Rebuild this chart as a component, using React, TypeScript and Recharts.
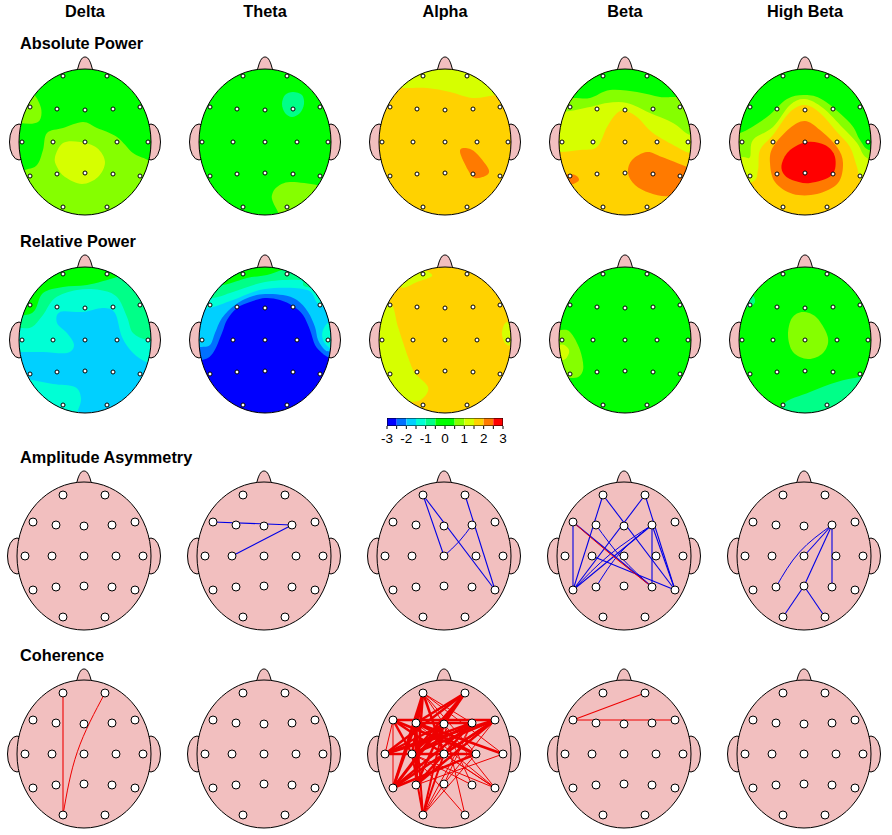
import React from "react";
import { ScatterChart, Scatter, XAxis, YAxis } from "recharts";

type Pt = [number, number];
type Band = [string, Pt[]];

const bandNames = ["Delta", "Theta", "Alpha", "Beta", "High Beta"];
const colorBreaks = [-3, -2.5, -2, -1.5, -1, -0.5, 0, 0.5, 1, 1.5, 2, 2.5, 3];
const colorTicks = [-3, -2.5, -2, -1.5, -1, -0.5, 0, 0.5, 1, 1.5, 2, 2.5, 3];
const palette = ["#0000ff", "#0070ff", "#00d0ff", "#00ffd5", "#00ff88", "#00ff00", "#00ff00", "#85ff00", "#d6ff00", "#ffd200", "#ff7a00", "#ff0000"];
const PINK = "#f2bfbf";
const [BL, B2, B3, TQ, SG, G, , LG, YG, Y, O, R] = palette;

const topoElectrodes: Record<string, Pt> = {
  Fp1: [-22, -66], Fp2: [22, -66], F7: [-55, -35], F3: [-28, -33], Fz: [0, -32], F4: [28, -33], F8: [55, -35],
  T3: [-63, 0], C3: [-32, 0], Cz: [0, 0], C4: [32, 0], T4: [63, 0],
  T5: [-55, 34], P3: [-28, 32], Pz: [0, 31], P4: [28, 32], T6: [55, 34], O1: [-22, 65], O2: [22, 65],
};
const netElectrodes: Record<string, Pt> = {
  Fp1: [-21, -61], Fp2: [21, -61], F7: [-51, -34], F3: [-28, -31], Fz: [0, -30], F4: [28, -31], F8: [51, -34],
  T3: [-59, 0], C3: [-32, 0], Cz: [0, 0], C4: [32, 0], T4: [59, 0],
  T5: [-51, 34], P3: [-28, 31], Pz: [0, 30], P4: [28, 31], T6: [51, 34], O1: [-21, 61], O2: [21, 61],
};
const nose: Pt[] = [[-7, -68], [-6.5, -76], [-3.5, -83], [0, -85], [3.5, -83], [6.5, -76], [7, -68]];

const deltaAbs: Band[] = [
  [LG, [[-60, 28], [-48, 23], [-42, 8], [-38, -9], [-22, -14], [-2, -20], [12, -14], [32, -5], [48, 11], [63, 18], [85, 30], [85, 95], [0, 98], [-85, 95], [-85, 35]]],
  [LG, [[-54, -50], [-44, -34], [-47, -20], [-65, -19], [-85, -25], [-72, -50]]],
  [YG, [[-30, 15], [-22, 1], [-5, 0], [12, 6], [20, 20], [13, 35], [-3, 42], [-20, 35], [-28, 25]]],
];
const thetaAbs: Band[] = [
  [SG, [[17, -38], [20, -47], [28, -50], [37, -47], [39, -38], [35, -29], [27, -25], [20, -29]]],
  [LG, [[13, 70], [8, 60], [7, 53], [12, 45], [25, 40], [52, 43], [70, 47], [85, 70], [50, 95], [20, 85]]],
];
const alphaAbs: Band[] = [
  [YG, [[-60, -55], [-42, -54], [-18, -54], [5, -50], [28, -44], [52, -47], [80, -48], [60, -95], [0, -98], [-60, -95]]],
  [O, [[15, 10], [20, 6], [30, 10], [43, 26], [42, 33], [30, 36], [23, 28]]],
];
const betaAbs: Band[] = [
  [YG, [[-65, 10], [-45, 8], [-28, 5], [-18, -15], [-8, -29], [0, -31], [12, -25], [28, -9], [52, 5], [65, 11], [85, 12], [85, -98], [-85, -98], [-85, 10]]],
  [LG, [[-62, -30], [-35, -35], [-18, -39], [2, -39], [25, -29], [48, -19], [65, -7], [85, -5], [85, -98], [-85, -98], [-85, -30]]],
  [G, [[-52, -44], [-35, -44], [-15, -52], [12, -50], [35, -45], [50, -45], [85, -45], [85, -98], [-85, -98], [-85, -44]]],
  [O, [[3, 31], [7, 18], [22, 10], [37, 15], [62, 25], [80, 32], [70, 45], [45, 54], [25, 51], [10, 43]]],
  [O, [[-60, 33], [-50, 33], [-46, 38], [-52, 42], [-60, 42]]],
];
const highBetaAbs: Band[] = [
  [YG, [[-53, 40], [-47, 28], [-45, 8], [-32, -7], [-15, -30], [0, -37], [15, -29], [32, -10], [45, 5], [52, 25], [58, 40], [85, 45], [85, -98], [-85, -98], [-85, 45]]],
  [LG, [[-62, 15], [-55, 15], [-52, -2], [-32, -15], [-15, -37], [0, -43], [18, -34], [38, -14], [52, 1], [62, 16], [85, 20], [85, -98], [-85, -98], [-85, 15]]],
  [G, [[-65, -9], [-38, -25], [-18, -43], [0, -47], [18, -42], [45, -19], [55, -2], [64, 8], [85, 10], [85, -98], [-85, -98], [-85, -9]]],
  [O, [[-35, 21], [-32, 5], [-15, -14], [0, -21], [15, -12], [32, 5], [38, 21], [33, 41], [12, 52], [-12, 52], [-30, 40]]],
  [R, [[-23, 21], [-15, 8], [2, 0], [20, 3], [30, 15], [27, 33], [5, 41], [-13, 38], [-22, 31]]],
];

const deltaRel: Band[] = [
  [TQ, [[-65, 12], [-42, 12], [-18, 13], [-11, 5], [-18, -7], [-28, -17], [-25, -28], [-2, -28], [18, -32], [30, -27], [37, -3], [48, 13], [63, 23], [85, 30], [85, -98], [-85, -98], [-85, 12]]],
  [TQ, [[-70, 35], [-53, 40], [-32, 44], [-10, 47], [-4, 58], [-7, 70], [-12, 78], [-40, 90], [-80, 70]]],
  [SG, [[-65, -12], [-53, -13], [-42, -25], [-30, -42], [-8, -50], [15, -50], [32, -43], [42, -23], [48, -7], [63, 0], [85, 0], [85, -98], [-85, -98], [-85, -12]]],
  [G, [[-60, -25], [-50, -30], [-42, -47], [-22, -53], [2, -55], [32, -63], [50, -70], [50, -98], [-85, -98], [-85, -25]]],
];
const thetaRel: Band[] = [
  [B2, [[-63, 20], [-52, 13], [-43, -7], [-38, -20], [-28, -32], [-15, -38], [0, -42], [15, -40], [28, -34], [38, -25], [45, -10], [50, 5], [57, 13], [65, 18], [85, 25], [85, -98], [-85, -98], [-85, 20]]],
  [B3, [[-65, 7], [-55, 5], [-50, -7], [-43, -22], [-30, -35], [-15, -43], [0, -46], [18, -45], [32, -40], [43, -28], [50, -13], [53, 0], [60, 10], [66, 12], [85, 18], [85, -98], [-85, -98], [-85, 7]]],
  [TQ, [[-56, -32], [-32, -40], [0, -51], [42, -50], [55, -35], [85, -30], [85, -98], [-85, -98], [-85, -30]]],
  [TQ, [[58, -10], [65, -18], [75, -10], [75, 8], [65, 8], [58, 0]]],
  [SG, [[-52, -42], [-32, -48], [0, -58], [35, -60], [42, -53], [85, -50], [85, -98], [-85, -98], [-85, -40]]],
  [G, [[-42, -55], [-18, -62], [2, -65], [18, -70], [28, -68], [50, -80], [50, -98], [-85, -98], [-85, -50]]],
];
const alphaRel: Band[] = [
  [YG, [[-45, -53], [-28, -58], [-13, -64], [-20, -70], [-30, -72], [-60, -75]]],
  [YG, [[-55, -37], [-47, -13], [-37, 17], [-30, 33], [-17, 47], [-22, 58], [-35, 62], [-80, 60], [-88, 0], [-80, -37]]],
  [YG, [[63, -18], [57, -8], [60, 3], [67, 5], [80, -5]]],
];
const betaRel: Band[] = [
  [LG, [[-65, -10], [-55, -8], [-45, 10], [-42, 30], [-52, 38], [-80, 30], [-80, -10]]],
  [YG, [[-65, 5], [-58, 7], [-56, 13], [-62, 20], [-75, 15]]],
];
const highBetaRel: Band[] = [
  [LG, [[-17, -5], [-13, -22], [-2, -28], [12, -22], [23, -2], [18, 13], [3, 19], [-12, 12]]],
  [SG, [[-22, 65], [5, 52], [32, 42], [55, 37], [80, 35], [80, 90], [-20, 90]]],
  [SG, [[-58, -42], [-52, -44], [-50, -38], [-55, -33], [-60, -35]]],
];

const absBases = [G, G, Y, Y, Y];
const relBases = [B3, BL, Y, G, G];
const absMaps = [deltaAbs, thetaAbs, alphaAbs, betaAbs, highBetaAbs];
const relMaps = [deltaRel, thetaRel, alphaRel, betaRel, highBetaRel];

// [from, to, width?, bow?]
type Link = [string, string, number?, number?];
const asymDelta: Link[] = [];
const asymTheta: Link[] = [["F7", "F4"], ["C3", "F4"]];
const asymAlpha: Link[] = [["Fp1", "Cz"], ["Fp1", "T6"], ["Fp2", "T6"], ["Cz", "F4", 1, 1.5]];
const asymBeta: Link[] = [
  ["Fp1", "T5"], ["Fp1", "T6"], ["Fp2", "T5"], ["Fp2", "T6"], ["F7", "T5"], ["F7", "P4"], ["F3", "P4", 1, 3],
  ["C3", "T6"], ["F4", "T5"], ["F4", "T5", 1, 4], ["F4", "P3", 1, 5], ["F4", "P4"], ["F4", "T6"],
];
const asymHighBeta: Link[] = [["F4", "Cz"], ["F4", "P3", 1, 6], ["F4", "Pz"], ["F4", "P4"], ["Pz", "O1"], ["Pz", "O2"]];
const cohDelta: Link[] = [["Fp1", "O1"], ["Fp2", "O1", 1, 7]];
const cohTheta: Link[] = [];
const cohAlpha: Link[] = [
  ["Fp1", "T5", 2.5], ["Fp1", "C3", 2.5], ["Fp1", "F3", 2.5], ["Fp1", "Cz", 2.5], ["Fp1", "P3", 2.5], ["Fp2", "T3", 2.5], ["Fp2", "C3", 2.5],
  ["Fp2", "T5", 2.5], ["Fp2", "F3", 2.5], ["Fp2", "Fz", 2.5], ["F7", "F8", 2.5], ["F7", "C3", 2.5], ["F7", "Cz", 2.5], ["F3", "T4", 2.5],
  ["F3", "C4", 2.5], ["F3", "P3", 2.5], ["F3", "T5", 2.5], ["Fz", "T5", 2.5], ["Fz", "P3", 2.5], ["Fz", "T3", 2.5], ["Fz", "C3", 2.5],
  ["F4", "T3", 2.5], ["F4", "C3", 2.5], ["F4", "T5", 2.5], ["F4", "P3", 2.5], ["F8", "T3", 2.5], ["F8", "C3", 2.5], ["F8", "T5", 2.5],
  ["F8", "P3", 2.5], ["F8", "Cz", 2.5], ["C4", "T3", 2.5], ["T5", "C4", 2.5], ["F7", "C4", 2.5], ["O1", "F3", 2], ["O1", "Fz", 2], ["O1", "C3", 2], ["O1", "Cz", 2], ["F3", "F4", 2.5],
  ["Fp1", "F4", 1], ["Fp1", "C4", 1], ["Fp1", "Fz", 1], ["F7", "T3", 1], ["F7", "T5", 1], ["F7", "T6", 1], ["Fp1", "T4", 1],
  ["F3", "T6", 1], ["C3", "T6", 1], ["C3", "P4", 1], ["Cz", "T6", 1], ["O2", "Fz", 1], ["O2", "C3", 1], ["O1", "Pz", 1], ["Pz", "F4", 1],
  ["P4", "Fz", 1], ["T6", "Fz", 1], ["P3", "T4", 1], ["O1", "C4", 1], ["F4", "O1", 1], ["F8", "Pz", 1],
];
const cohBeta: Link[] = [["Fp2", "F7"], ["F7", "F8"]];
const cohHighBeta: Link[] = [];
const asymLinks = [asymDelta, asymTheta, asymAlpha, asymBeta, asymHighBeta];
const cohLinks = [cohDelta, cohTheta, cohAlpha, cohBeta, cohHighBeta];
const betaRedLinks: Link[] = [["F7", "P4", 1, 1]];

const W = 180, H = 200;
const FONT = "'Liberation Sans', Arial, sans-serif";

const toPts = (a: Pt[]) => a.map(([x, y]) => ({ x, y }));
const emptyShape = () => <g />;

function smoothClosed(p: { x: number; y: number }[]) {
  const n = p.length;
  let d = `M${p[0].x},${p[0].y}`;
  for (let i = 0; i < n; i++) {
    const a = p[(i - 1 + n) % n], b = p[i], c = p[(i + 1) % n], e = p[(i + 2) % n];
    d += `C${b.x + (c.x - a.x) / 6},${b.y + (c.y - a.y) / 6} ${c.x - (e.x - b.x) / 6},${c.y - (e.y - b.y) / 6} ${c.x},${c.y}`;
  }
  return d + "Z";
}

function Head({ id, rx, ry, base, bands, electrodes, links, linkColor, dotR, extraLinks }: any) {
  const ellipseAt = (erx: number, ery: number, fill: string) => (p: any) => (
    <ellipse cx={p.cx} cy={p.cy} rx={erx} ry={ery} fill={fill} stroke="#000" strokeWidth={1} />
  );
  const headFill = (p: any) => (
    <g>
      <defs>
        <clipPath id={id}>
          <ellipse cx={p.cx} cy={p.cy} rx={rx} ry={ry} />
        </clipPath>
      </defs>
      <ellipse cx={p.cx} cy={p.cy} rx={rx} ry={ry} fill={base} />
    </g>
  );
  const linkSeries = (ls: Link[], color: string, prefix: string) =>
    ls.map(([a, b, w, bow], i) => {
      const pa = electrodes[a], pb = electrodes[b];
      const pts: Pt[] = [pa, pb];
      if (bow) {
        const dx = pb[0] - pa[0], dy = pb[1] - pa[1], len = Math.hypot(dx, dy);
        pts.splice(1, 0, [(pa[0] + pb[0]) / 2 + (-dy / len) * bow, (pa[1] + pb[1]) / 2 + (dx / len) * bow]);
      }
      return (
        <Scatter key={prefix + i} data={toPts(pts)} isAnimationActive={false} shape={emptyShape}
          line={{ stroke: color, strokeWidth: w ?? 1.1 }} lineJointType={bow ? "natural" : "linear"} />
      );
    });
  return (
    <ScatterChart width={W} height={H} margin={{ top: 0, right: 0, bottom: 0, left: 0 }}>
      <XAxis type="number" dataKey="x" domain={[-W / 2, W / 2]} allowDataOverflow hide />
      <YAxis type="number" dataKey="y" domain={[-H / 2, H / 2]} allowDataOverflow reversed hide />
      <Scatter data={[{ x: -rx, y: 0 }]} isAnimationActive={false} shape={ellipseAt(9.5, 18, PINK)} />
      <Scatter data={[{ x: rx, y: 0 }]} isAnimationActive={false} shape={ellipseAt(9.5, 18, PINK)} />
      <Scatter data={toPts(nose)} isAnimationActive={false} shape={emptyShape}
        line={(p: any) => <path d={smoothClosed(p.points)} fill={PINK} stroke="#000" strokeWidth={1} />} />
      <Scatter data={[{ x: 0, y: 0 }]} isAnimationActive={false} shape={headFill} />
      {(bands as Band[]).map(([color, poly], i) => (
        <Scatter key={i} data={toPts(poly)} isAnimationActive={false} shape={emptyShape}
          line={(p: any) => <path d={smoothClosed(p.points)} fill={color} stroke="none" clipPath={`url(#${id})`} />} />
      ))}
      <Scatter data={[{ x: 0, y: 0 }]} isAnimationActive={false} shape={ellipseAt(rx, ry, "none")} />
      {linkSeries(links ?? [], linkColor, "l")}
      {linkSeries(extraLinks ?? [], "#ee0000", "x")}
      <Scatter data={toPts(Object.values(electrodes) as Pt[])} isAnimationActive={false}
        shape={(p: any) => <circle cx={p.cx} cy={p.cy} r={dotR} fill="#fff" stroke="#000" strokeWidth={1} />} />
    </ScatterChart>
  );
}

const colX1 = [85, 265, 445, 625, 805];
const colX2 = [84, 264, 444, 624, 804];
const rowY = [142, 340, 556, 754];

function Place({ cx, cy, children }: any) {
  return <div style={{ position: "absolute", left: cx - W / 2, top: cy - H / 2, width: W, height: H }}>{children}</div>;
}
const labelStyle: React.CSSProperties = { position: "absolute", fontFamily: FONT, fontWeight: 700, fontSize: 16.3, lineHeight: "18px", color: "#000", whiteSpace: "nowrap" };
const rowLabels: [string, number][] = [["Absolute Power", 34], ["Relative Power", 232], ["Amplitude Asymmetry", 448], ["Coherence", 646]];

function ColorBar() {
  const fmt = (v: number) => (Number.isInteger(v) ? String(v) : "");
  const cell = (lo: number, hi: number) => toPts([[lo, 0], [hi, 0], [hi, 1], [lo, 1]]);
  return (
    <div style={{ position: "absolute", left: 367, top: 416 }}>
      <ScatterChart width={156} height={32} margin={{ top: 2, right: 20, bottom: 0, left: 20 }}>
        <XAxis type="number" dataKey="x" domain={[-3, 3]} allowDataOverflow ticks={colorTicks} interval={0} tickFormatter={fmt} height={22}
          axisLine={false} tickSize={3} tickLine={{ stroke: "#000" }} tick={{ fill: "#000", fontSize: 13.5, fontFamily: FONT, dy: 2 }} />
        <YAxis type="number" dataKey="y" domain={[0, 1]} allowDataOverflow hide />
        {palette.map((c, i) => (
          <Scatter key={i} data={cell(colorBreaks[i], colorBreaks[i + 1])} isAnimationActive={false} shape={emptyShape}
            line={(p: any) => <path d={"M" + p.points.map((q: any) => `${q.x},${q.y}`).join("L") + "Z"} fill={c} stroke="none" />} />
        ))}
        <Scatter data={cell(-3, 3)} isAnimationActive={false} shape={emptyShape}
          line={(p: any) => <path d={"M" + p.points.map((q: any) => `${q.x},${q.y}`).join("L") + "Z"} fill="none" stroke="#000" strokeWidth={1} />} />
      </ScatterChart>
    </div>
  );
}

export default function App() {
  return (
    <div style={{ position: "absolute", left: 0, top: 0, width: 892, height: 835, background: "#fff", overflow: "hidden" }}>
      {bandNames.map((n, i) => (
        <div key={n} style={{ ...labelStyle, left: colX1[i] - 60, width: 120, textAlign: "center", top: 2 }}>{n}</div>
      ))}
      {rowLabels.map(([n, y]) => (
        <div key={n} style={{ ...labelStyle, left: 20, top: y }}>{n}</div>
      ))}
      {bandNames.map((n, i) => (
        <Place key={"a" + n} cx={colX1[i]} cy={rowY[0]}>
          <Head id={"ca" + i} rx={66} ry={73} base={absBases[i]} bands={absMaps[i]} electrodes={topoElectrodes} dotR={2} />
        </Place>
      ))}
      {bandNames.map((n, i) => (
        <Place key={"r" + n} cx={colX1[i]} cy={rowY[1]}>
          <Head id={"cr" + i} rx={66} ry={73} base={relBases[i]} bands={relMaps[i]} electrodes={topoElectrodes} dotR={2} />
        </Place>
      ))}
      {bandNames.map((n, i) => (
        <Place key={"s" + n} cx={colX2[i]} cy={rowY[2]}>
          <Head id={"cs" + i} rx={67} ry={74} base={PINK} bands={[]} electrodes={netElectrodes} dotR={4}
            links={asymLinks[i]} linkColor="#0000e6" extraLinks={i === 3 ? betaRedLinks : []} />
        </Place>
      ))}
      {bandNames.map((n, i) => (
        <Place key={"c" + n} cx={colX2[i]} cy={rowY[3]}>
          <Head id={"cc" + i} rx={67} ry={74} base={PINK} bands={[]} electrodes={netElectrodes} dotR={4}
            links={cohLinks[i]} linkColor="#ee0000" />
        </Place>
      ))}
      <ColorBar />
    </div>
  );
}
